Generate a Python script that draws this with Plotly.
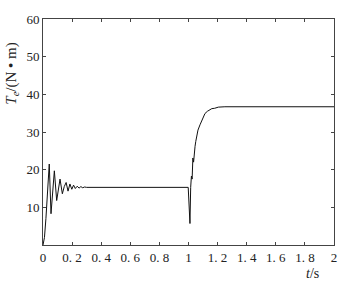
import plotly.graph_objects as go

t_vals = [0, 0.01, 0.02, 0.03, 0.043, 0.055, 0.066, 0.078, 0.094, 0.105, 0.117, 0.133,
          0.146, 0.159, 0.172, 0.185, 0.198, 0.21, 0.222, 0.235, 0.248, 0.26, 0.273,
          0.286, 0.3, 0.998, 1.005, 1.01, 1.015, 1.02, 1.025, 1.03, 1.035, 1.04, 1.045,
          1.05, 1.056, 1.065, 1.079, 1.09, 1.1, 1.113, 1.13, 1.16, 1.18, 1.205, 1.25, 2.0]
te_vals = [0, 2, 7, 14, 21.5, 8.3, 14, 19.7, 11.8, 15, 17.5, 13.6,
           15.5, 16.6, 14.3, 16.2, 14.8, 15.9, 15.0, 15.6, 15.1, 15.5, 15.2,
           15.4, 15.3, 15.3, 10, 5.7, 15.3, 18.3, 17.5, 23.1, 22, 25.5, 26.2,
           27.5, 29.2, 30.5, 31.9, 32.8, 33.5, 34.9, 35.5, 36.2, 36.3, 36.6, 36.7, 36.7]

x_ticks = [0, 0.2, 0.4, 0.6, 0.8, 1, 1.2, 1.4, 1.6, 1.8, 2]
x_labels = ["0", "0. 2", "0. 4", "0. 6", "0. 8", "1", "1. 2", "1. 4", "1. 6", "1. 8", "2"]
y_ticks = [10, 20, 30, 40, 50, 60]

font = "Liberation Serif, DejaVu Serif, serif"

fig = go.Figure()
fig.add_trace(go.Scatter(x=t_vals, y=te_vals, mode="lines",
                         line=dict(color="#111111", width=1), showlegend=False))

axis_common = dict(showline=True, linecolor="#444444", linewidth=1, mirror="ticks",
                   ticks="inside", ticklen=3, tickcolor="#444444", showgrid=False,
                   zeroline=False, tickfont=dict(family=font, size=13, color="#222222"))
fig.update_xaxes(range=[0, 2], tickvals=x_ticks, ticktext=x_labels, **axis_common)
fig.update_yaxes(range=[0, 60], tickvals=y_ticks, **axis_common)

fig.add_annotation(text="<i>T</i><sub><i>e</i></sub>/(N • m)", xref="paper", yref="paper",
                   x=-0.105, y=0.76, textangle=-90, showarrow=False,
                   font=dict(family=font, size=15, color="#222222"),
                   xanchor="center", yanchor="middle")
fig.add_annotation(text="<i>t</i>/s", xref="paper", yref="paper",
                   x=0.925, y=-0.125, showarrow=False,
                   font=dict(family=font, size=14, color="#222222"),
                   xanchor="center", yanchor="middle")

fig.update_layout(width=361, height=284, margin=dict(l=43, r=27, t=16, b=39),
                  paper_bgcolor="white", plot_bgcolor="white")
fig.write_html("out.html")
